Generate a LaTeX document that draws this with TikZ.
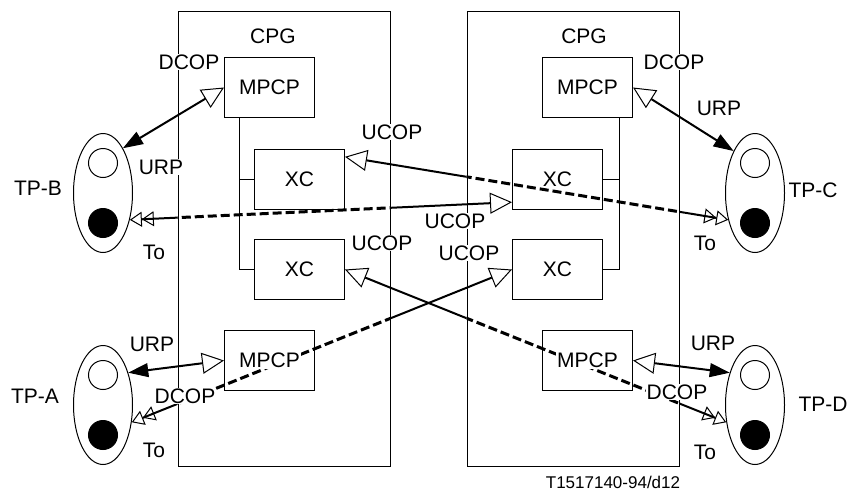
\documentclass[tikz,border=0pt]{standalone}
\usepackage{fontspec}
\setmainfont{Liberation Sans}
\usetikzlibrary{arrows.meta,shapes.geometric,backgrounds,positioning,calc}

\tikzset{
  frame/.style={draw,minimum width=212pt,minimum height=455pt},
  unit/.style={draw,minimum width=90pt,minimum height=60pt,
    label={[fill=white,inner sep=1pt]center:#1}},
  tp/.style={draw,ellipse,minimum width=59pt,minimum height=119pt},
  hole/.style={draw,circle,minimum size=29pt,inner sep=0pt},
  tag/.style={fill=white,inner sep=1pt},
  urp/.style={line width=2pt,
    {Triangle[length=20pt,width=14pt,line width=1pt]}-{Triangle[open,length=22pt,width=21pt,line width=1pt]}},
  cop/.style={line width=2pt,
    {Triangle[open,length=12pt,width=15pt,line width=1pt,sep=0pt]Triangle[open,length=12pt,width=15pt,line width=1pt]}-{Triangle[open,length=22pt,width=21pt,line width=1pt]}},
  wipe/.style={draw=white,line width=3.5pt},
  dashpart/.style={line width=3pt,dash pattern=on 9pt off 4pt}
}

\begin{document}
\begin{tikzpicture}[x=1pt,y=-1pt,line width=1pt,font=\fontsize{21}{25}\selectfont]
  \useasboundingbox (0,0) rectangle (852,493);
  % the two CPGs
  \node[frame] (cpgl) at (284,238.5) {};
  \node[frame] (cpgr) at (573,238.5) {};
  \node (cpglt) at (273,36) {CPG};
  \node (cpgrt) at (584,36) {CPG};

  % MPCP and XC units
  \node[unit=MPCP] (mpb) at (269.5,87.5) {};
  \node[unit=XC]   (xcl) at (299.5,179) {};
  \node[unit=XC]   (xdl) at (299.5,269.5) {};
  \node[unit=MPCP] (mpa) at (269.5,360.5) {};
  \node[unit=MPCP] (mpc) at (587.5,87.5) {};
  \node[unit=XC]   (xcr) at (557.5,179) {};
  \node[unit=XC]   (xdr) at (557.5,269.5) {};
  \node[unit=MPCP] (mpd) at (587.5,360.5) {};

  \coordinate (busl) at ($(mpb.south west)+(15,0)$);
  \coordinate (busr) at ($(mpc.south east)+(-14,0)$);
  \draw (busl) |- (xdl.west);
  \draw (xcl.west) -- (xcl.west -| busl);
  \draw (busr) |- (xdr.east);
  \draw (xcr.east) -- (xcr.east -| busr);

  % terminal points
  \foreach \n/\x/\y in {tpb/103/193,tpc/755/193,tpa/103/405,tpd/755/405} {
    \node[tp] (\n) at (\x,\y) {};
    \node[hole,above=15pt of \n.center] (\n o) {};
    \node[hole,fill=black,below=15pt of \n.center] (\n f) {};
  }
  \node (tpbt) at (38,188) {TP-B};
  \node (tpct) at (813,190) {TP-C};
  \node (tpat) at (35,396) {TP-A};
  \node (tpdt) at (823,404) {TP-D};

  \begin{pgfonlayer}{background}
    \draw[urp] (tpb.66) -- (mpb.west);
    \draw[urp] (tpc.117) -- (mpc.east);
    \draw[urp] (tpa.52) -- (mpa.west);
    \draw[urp] (tpd.128) -- (mpd.east);
    \draw[cop] (tpb.-45) -- (xcr.207);
    \draw[cop] (tpc.225) -- (xcl.26);
    \draw[cop] (tpa.-31) -- (xdr.west);
    \draw[cop] (tpd.211) -- (xdl.east);
    % dashed where a connection runs through the other CPG
    \begin{scope}
      \clip (cpgl.south west) rectangle (cpgl.north east);
      \draw[wipe] (tpb.-45) -- (xcr.207);
      \draw[dashpart] (tpb.-45) -- (xcr.207);
      \draw[wipe] (tpa.-31) -- (xdr.west);
      \draw[dashpart] (tpa.-31) -- (xdr.west);
    \end{scope}
    \begin{scope}
      \clip (cpgr.south west) rectangle (cpgr.north east);
      \draw[wipe] (tpc.225) -- (xcl.26);
      \draw[dashpart] (tpc.225) -- (xcl.26);
      \draw[wipe] (tpd.211) -- (xdl.east);
      \draw[dashpart] (tpd.211) -- (xdl.east);
    \end{scope}
  \end{pgfonlayer}

  % interface labels
  \node[tag] (dcopb) at (189,62) {DCOP};
  \node[tag] (dcopc) at (674,62) {DCOP};
  \node[tag] (urpb) at (161,167) {URP};
  \node[tag] (urpc) at (719,108) {URP};
  \node[tag] (ucopa) at (392,132) {UCOP};
  \node[tag] (ucopb) at (455,221) {UCOP};
  \node[tag] (ucopc) at (382,243) {UCOP};
  \node[tag] (ucopd) at (469,253) {UCOP};
  \node[tag] (tob) at (154,252) {To};
  \node[tag] (toc) at (705,243) {To};
  \node[tag] (urpa) at (152,344) {URP};
  \node[tag] (urpd) at (713,343) {URP};
  \node[tag] (dcopa) at (185,396) {DCOP};
  \node[tag] (dcopd) at (677,392) {DCOP};
  \node[tag] (toa) at (154,450) {To};
  \node[tag] (tod) at (705,452) {To};
  \node[font=\fontsize{17}{20}\selectfont] (fig) at (613,482) {T1517140-94/d12};
\end{tikzpicture}
\end{document}
